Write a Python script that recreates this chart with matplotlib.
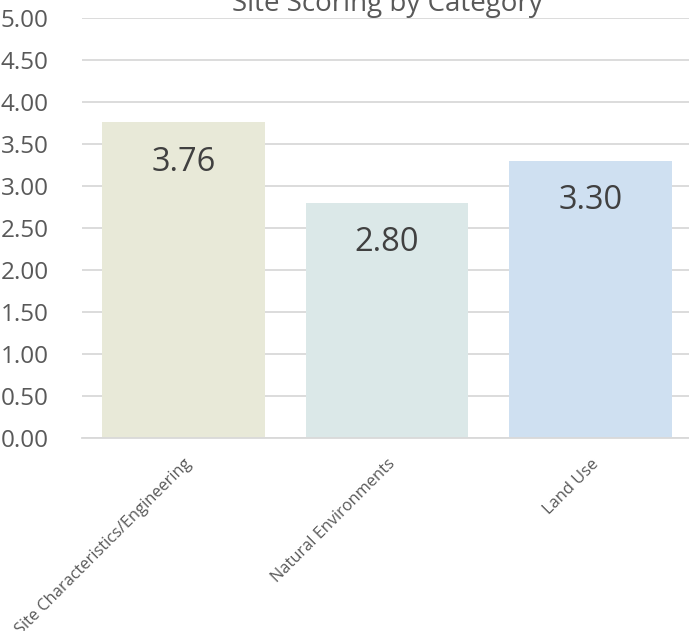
import numpy as np
import matplotlib.pyplot as plt

plt.rcParams['font.family'] = ['Open Sans', 'DejaVu Sans']

categories = ['Site Characteristics/Engineering', 'Natural Environments', 'Land Use']
scores = [3.76, 2.80, 3.30]
colors = ['#e8e9d8', '#dbe8e8', '#cfe0f1']
yticks = np.arange(0, 5.01, 0.5)

fig = plt.figure(figsize=(6.89, 6.31), dpi=100)
ax = fig.add_axes([82 / 689, 1 - 438 / 631, 610 / 689, 420 / 631])

x = np.arange(len(categories))
bars = ax.bar(x, scores, width=0.8, color=colors, zorder=2)

# value labels sit inside the top of each bar
for xi, s in zip(x, scores):
    ax.annotate('%.2f' % s, (xi, s), xytext=(0, -40), textcoords='offset pixels',
                ha='center', va='center', fontsize=23.5, color='#404040')

ax.set_xlim(-0.5, len(categories) - 0.5)
ax.set_ylim(0, 5)
ax.set_yticks(yticks)
ax.set_yticklabels(['%.2f' % t for t in yticks], fontsize=17.5, color='#595959')
ax.yaxis.grid(True, color='#d9d9d9', linewidth=1.3, zorder=0)
ax.set_axisbelow(True)
ax.tick_params(axis='y', length=0, pad=24)

ax.set_xticks(x)
ax.set_xticklabels(categories, rotation=45, ha='right', rotation_mode='anchor',
                   fontsize=11.8, color='#595959')
ax.tick_params(axis='x', length=0, pad=13)

for sp in ax.spines.values():
    sp.set_visible(False)
ax.spines['bottom'].set_visible(True)
ax.spines['bottom'].set_color('#d9d9d9')
ax.spines['bottom'].set_linewidth(1.3)

ax.set_title('Site Scoring by Category', fontsize=20, color='#595959', pad=4)

fig.savefig('out.png', dpi=100)
